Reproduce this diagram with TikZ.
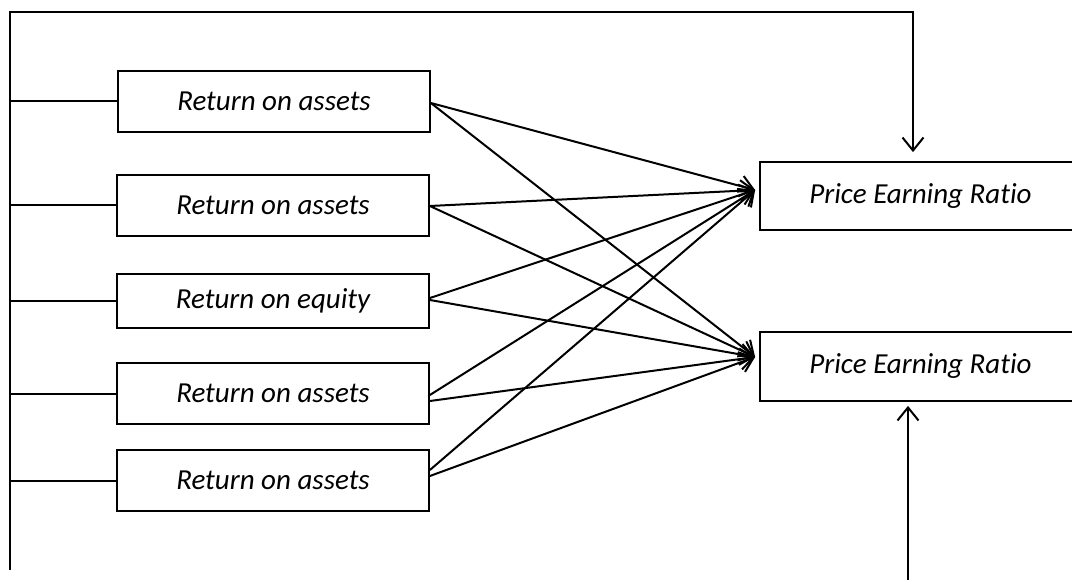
\documentclass[tikz,border=0pt]{standalone}
\usepackage{fontspec}
\setmainfont{Carlito}[Ligatures=CommonOff]
\usetikzlibrary{arrows.meta,calc}
\begin{document}
\begin{tikzpicture}[x=1pt,y=-1pt, line width=2pt,
  box/.style={draw, line width=1.8pt, minimum width=312pt, inner sep=0pt, font=\fontsize{29}{34}\selectfont\itshape},
  perbox/.style={draw, line width=1.8pt, minimum width=321pt, inner sep=0pt, font=\fontsize{29}{34}\selectfont\itshape},
  conn/.style={-{Straight Barb[length=13pt,width=21pt,line width=2pt]}},
]
\useasboundingbox (0,0) rectangle (1072,580);
\clip (0,0) rectangle (1072,580);
\node[box, minimum height=61pt] (b1) at (274,101.5) {Return on assets};
\node[box, minimum height=61pt] (b2) at (273,205.5) {Return on assets};
\node[box, minimum height=54pt] (b3) at (273,301) {Return on equity};
\node[box, minimum height=61pt] (b4) at (273,393.5) {Return on assets};
\node[box, minimum height=61pt] (b5) at (273,480.5) {Return on assets};
\node[perbox, minimum height=68pt] (p1) at (920.5,196) {Price Earning Ratio};
\node[perbox, minimum height=69pt] (p2) at (920.5,366.5) {Price Earning Ratio};
\coordinate (spinebot) at (10,570);
\coordinate (corner) at (913,12);
\coordinate (btm) at (908,582);
\coordinate (p1in) at ($(p1.west)+(-4,-6)$);
\coordinate (p2in) at ($(p2.west)+(-4,-9.5)$);
% feedback lines
\draw[conn, shorten >=9pt] (spinebot) -- (spinebot |- corner) -- (corner) -- (corner |- p1.north);
\draw[conn, shorten >=4pt] (btm) -- (btm |- p2.south);
\foreach \b in {b1,b2,b3,b4,b5}{
  \draw (spinebot |- \b.west) -- (\b.west);
}
% arrows to first ratio
\draw[conn] ($(b1.east)+(0,1.5)$) -- (p1in);
\draw[conn] ($(b2.east)+(0,0.5)$) -- (p1in);
\draw[conn] ($(b3.east)+(0,-3)$) -- (p1in);
\draw[conn] ($(b4.east)+(0,1.5)$) -- (p1in);
\draw[conn] ($(b5.east)+(0,-10.5)$) -- (p1in);
% arrows to second ratio
\draw[conn] ($(b1.east)+(0,1.5)$) -- (p2in);
\draw[conn] ($(b2.east)+(0,0.5)$) -- (p2in);
\draw[conn] ($(b3.east)+(0,-1)$) -- (p2in);
\draw[conn] ($(b4.east)+(0,7.5)$) -- (p2in);
\draw[conn] ($(b5.east)+(0,-4.5)$) -- (p2in);
\end{tikzpicture}
\end{document}
